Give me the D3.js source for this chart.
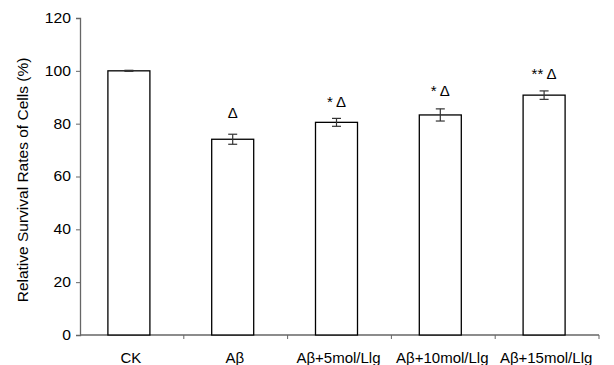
<!DOCTYPE html>
<html><head><meta charset="utf-8">
<script src="https://cdn.jsdelivr.net/npm/d3@7"></script>
<style>body{margin:0;background:#fff}svg{display:block}text{font-family:"Liberation Sans",Arial,sans-serif;fill:#000}</style>
</head><body><svg id="c" width="614" height="365"></svg>
<script>
const categories = ["CK", "Aβ", "Aβ+5mol/Llg", "Aβ+10mol/Llg", "Aβ+15mol/Llg"];
const values = [100, 74.1, 80.5, 83.3, 90.8];
const errors = [0.2, 1.9, 1.5, 2.3, 1.6];
const marks = ["", "Δ", "* Δ", "* Δ", "** Δ"];
const markY = [0, 82.1, 86.2, 90.3, 96.9];
const yTicks = [0, 20, 40, 60, 80, 100, 120];

const svg = d3.select("#c");
const y = d3.scaleLinear().domain([0, 120]).range([335, 18]);
const SX = 1.12;
const axisColor = "#666";

// y axis
const ya = svg.append("g").attr("transform", "translate(80,0)")
  .call(d3.axisLeft(y).tickValues(yTicks).tickSize(4).tickPadding(5));
ya.select(".domain").attr("stroke", axisColor).attr("stroke-width", 1.3);
ya.selectAll(".tick line").attr("stroke", axisColor);
ya.selectAll(".tick text").attr("font-size", 14).attr("font-family", "Liberation Sans, Arial, sans-serif")
  .attr("fill", "#000")
  .attr("transform", function(){ const xx = +d3.select(this).attr("x"); return `translate(${xx},0) scale(${SX},1) translate(${-xx},0)`; });

// x axis
const band = d3.scaleLinear().domain([0, categories.length]).range([80, 599]);
const xa = svg.append("g").attr("transform", "translate(0,335)");
xa.append("line").attr("x1", 80).attr("x2", 599).attr("stroke", axisColor).attr("stroke-width", 1.3);
xa.selectAll(".bt").data(d3.range(1, categories.length + 1)).join("line")
  .attr("x1", d => band(d)).attr("x2", d => band(d)).attr("y1", 0).attr("y2", 4)
  .attr("stroke", axisColor);
xa.selectAll(".cl").data(categories).join("text")
  .attr("x", (d, i) => (band(i) + band(i + 1)) / 2 - 1).attr("y", 28)
  .attr("text-anchor", "middle").attr("font-size", 15).text(d => d);

// bars
const bw = 42;
const cx = (i) => (band(i) + band(i + 1)) / 2 - 3;
svg.selectAll(".bar").data(values).join("rect")
  .attr("x", (d, i) => cx(i) - bw / 2).attr("width", bw)
  .attr("y", d => y(d)).attr("height", d => y(0) - y(d))
  .attr("fill", "#fff").attr("stroke", "#000").attr("stroke-width", 1.3);

// error bars
const eb = svg.append("g").attr("stroke", "#333").attr("stroke-width", 1.2);
values.forEach((v, i) => {
  const c = cx(i), e = errors[i];
  eb.append("line").attr("x1", c).attr("x2", c).attr("y1", y(v + e)).attr("y2", y(v - e));
  eb.append("line").attr("x1", c - 4.5).attr("x2", c + 4.5).attr("y1", y(v + e)).attr("y2", y(v + e));
  eb.append("line").attr("x1", c - 4.5).attr("x2", c + 4.5).attr("y1", y(v - e)).attr("y2", y(v - e));
});

// significance marks
svg.selectAll(".mk").data(marks).join("text")
  .attr("x", (d, i) => cx(i)).attr("y", (d, i) => y(markY[i]))
  .attr("text-anchor", "middle").attr("font-size", 15).text(d => d);

// y title
svg.append("text").attr("transform", "translate(28,180) rotate(-90)")
  .attr("text-anchor", "middle").attr("font-size", 15.5)
  .text("Relative Survival Rates of Cells (%)");
</script></body></html>
